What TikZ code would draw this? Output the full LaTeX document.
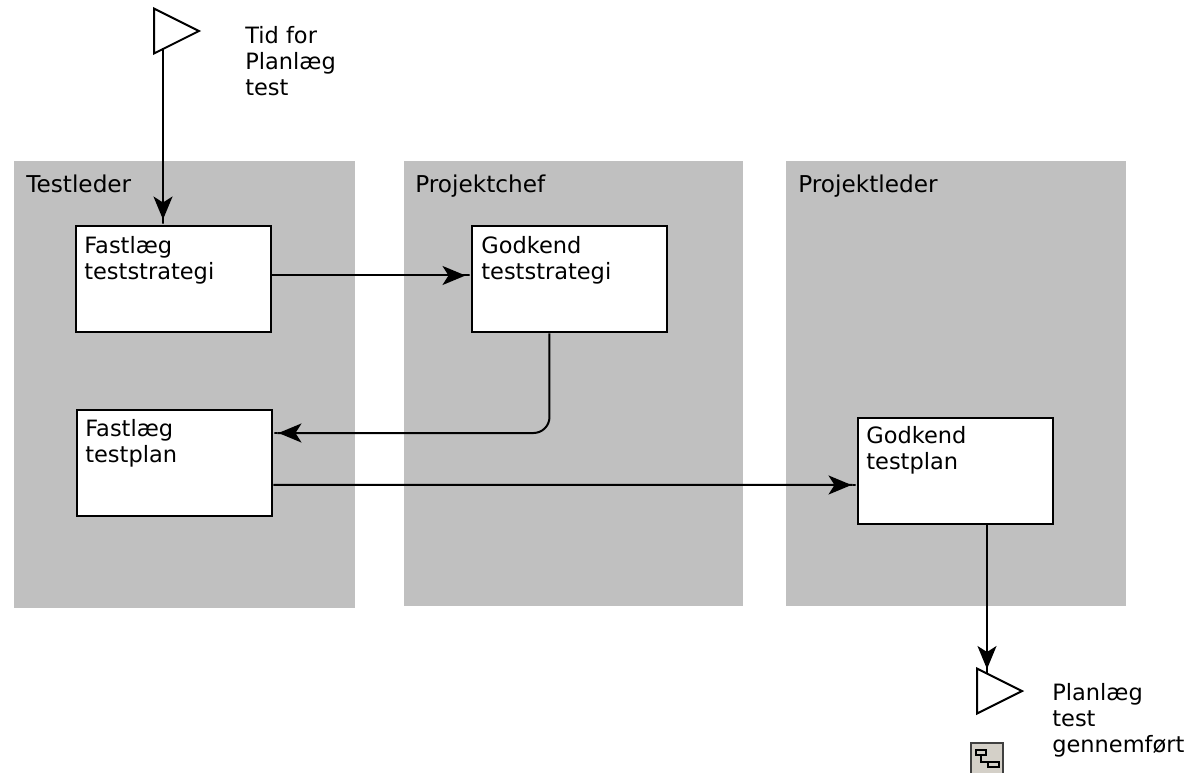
\documentclass[tikz,border=0pt]{standalone}
\usepackage{fontspec}
\setmainfont{DejaVu Sans}
\usepackage{xcolor}
\usetikzlibrary{arrows.meta,shapes.geometric}
\definecolor{lanegray}{HTML}{C0C0C0}
\definecolor{icongray}{HTML}{D4D0C8}
\tikzset{
  lane/.style={fill=lanegray, minimum width=6.8cm, minimum height=8.9cm, anchor=north west, inner sep=0pt},
  lanetext/.style={anchor=north west, inner sep=0pt, font=\fontsize{13.2}{14.8}\selectfont},
  procbox/.style={draw, line width=.04cm, fill=white, anchor=north west, minimum width=3.92cm, minimum height=2.14cm, inner sep=0pt},
  boxtext/.style={anchor=north west, inner sep=0pt, align=left, font=\fontsize{12.8}{14.8}\selectfont},
  event/.style={draw, line width=.04cm, fill=white, isosceles triangle, isosceles triangle apex angle=53, inner sep=0pt, minimum height=.9cm, minimum width=.9cm, isosceles triangle stretches, anchor=lower side},
  flow/.style={draw, line width=.04cm, -{Stealth[length=.46cm,width=.38cm,inset=.12cm,sep=0pt]Square[length=.1cm,width=.04cm]}}
}
\begin{document}
\begin{tikzpicture}[x=.02cm,y=-.02cm]
  \useasboundingbox (0,0) rectangle (1187,772);
  \clip (0,0) rectangle (1187,772);
  % lanes
  \node[lane, minimum width=6.82cm, minimum height=8.94cm] (testleder) at (14,161) {};
  \node[lane, minimum width=6.78cm] (projektchef) at (404,161) {};
  \node[lane] (projektleder) at (786,161) {};
  \node[lanetext] (testledername) at (26,175) {Testleder};
  \node[lanetext] (projektchefname) at (415,175) {Projektchef};
  \node[lanetext] (projektledername) at (798,175) {Projektleder};
  % activities
  \node[procbox] (fastlaegstrategi) at (74.5,224.5) {};
  \node[procbox] (godkendstrategi) at (470.5,224.5) {};
  \node[procbox] (fastlaegplan) at (75.5,408.5) {};
  \node[procbox] (godkendplan) at (856.5,416.5) {};
  \node[boxtext] (fastlaegstrategitext) at (84,236) {Fastlæg\\teststrategi};
  \node[boxtext] (godkendstrategitext) at (481,236) {Godkend\\teststrategi};
  \node[boxtext] (fastlaegplantext) at (85,419) {Fastlæg\\testplan};
  \node[boxtext] (godkendplantext) at (866,426) {Godkend\\testplan};
  % events
  \node[event] (tidfor) at (153,31) {};
  \node[event] (gennemfoert) at (976,691) {};
  \node[boxtext] (tidfortext) at (245,26) {Tid for\\Planlæg\\test};
  \node[boxtext] (gennemfoerttext) at (1052,683) {Planlæg\\test\\gennemført};
  % connectors
  \coordinate (tidforout) at (163,48);
  \coordinate (gennemfoertin) at (987,674);
  \draw[flow] (tidforout) -- (tidforout |- fastlaegstrategi.north);
  \draw[flow] ([yshift=.07cm]fastlaegstrategi.east) -- ([yshift=.07cm]godkendstrategi.west);
  \draw[flow, rounded corners=.32cm] ([xshift=-.4cm]godkendstrategi.south) |- ([yshift=.6cm]fastlaegplan.east);
  \draw[flow] ([yshift=-.44cm]fastlaegplan.east) -- ([yshift=-.28cm]godkendplan.west);
  \draw[flow] (gennemfoertin |- godkendplan.south) -- (gennemfoertin);
  % drill down icon
  \draw[line width=.05cm, draw=black!75, fill=icongray] (971,743) rectangle (1003,775);
  \draw[line width=.03cm] (976,750) rectangle (986,755);
  \draw[line width=.03cm] (988,762) rectangle (999,767);
  \draw[line width=.03cm] (981,755) |- (993,762);
\end{tikzpicture}
\end{document}
